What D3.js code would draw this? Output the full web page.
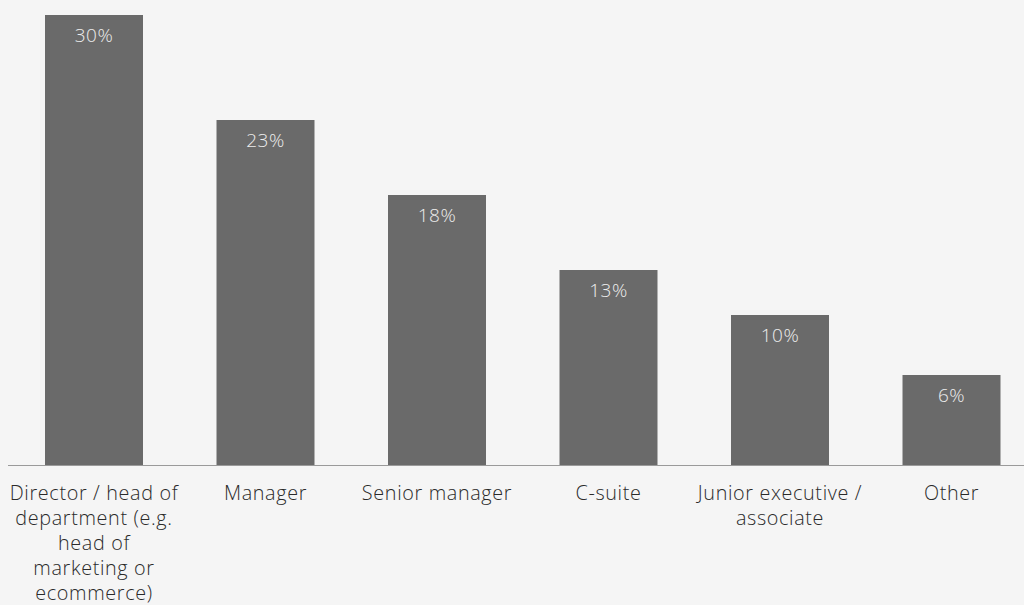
<!DOCTYPE html>
<html>
<head>
<meta charset="utf-8">
<script src="https://cdn.jsdelivr.net/npm/d3@7"></script>
<style>
  html, body { margin: 0; padding: 0; background: #f5f5f5; }
  svg { display: block; }
  text { font-family: "Open Sans", sans-serif; }
</style>
</head>
<body>
<svg id="chart" width="1024" height="605"></svg>
<script>
// Category labels, with line breaks where the label wraps
const categories = [
  "Director / head of\ndepartment (e.g.\nhead of\nmarketing or\necommerce)",
  "Manager",
  "Senior manager",
  "C-suite",
  "Junior executive /\nassociate",
  "Other"
];
const values = [30, 23, 18, 13, 10, 6];

const W = 1024, H = 605;
const baseline = 465;
const svg = d3.select("#chart");

const x = d3.scaleBand()
  .domain(categories)
  .range([8.25, 1037.25])
  .paddingInner(0.4286)
  .paddingOuter(0.2143);

const y = d3.scaleLinear()
  .domain([0, 30])
  .range([baseline, 15]);

const data = categories.map((c, i) => ({ cat: c, val: values[i] }));

svg.append("g").selectAll("rect")
  .data(data)
  .join("rect")
  .attr("x", d => x(d.cat))
  .attr("y", d => y(d.val))
  .attr("width", x.bandwidth())
  .attr("height", d => baseline - y(d.val))
  .attr("fill", "#6a6a6a");

svg.append("g").selectAll("text")
  .data(data)
  .join("text")
  .attr("x", d => x(d.cat) + x.bandwidth() / 2)
  .attr("y", d => y(d.val) + 27)
  .attr("text-anchor", "middle")
  .attr("font-size", 19)
  .attr("font-weight", 300)
  .attr("letter-spacing", 0.5)
  .attr("fill", "#ededed")
  .text(d => d.val + "%");

// baseline axis
svg.append("line")
  .attr("x1", 8).attr("x2", W)
  .attr("y1", baseline + 0.5).attr("y2", baseline + 0.5)
  .attr("stroke", "#9a9a9a")
  .attr("stroke-width", 1);

// category labels under the bars
svg.append("g").selectAll("text")
  .data(data)
  .join("text")
  .attr("text-anchor", "middle")
  .attr("font-size", 19.8)
  .attr("font-weight", 300)
  .attr("letter-spacing", 0.65)
  .attr("fill", "#2a2a2a")
  .each(function(d) {
    const cx = x(d.cat) + x.bandwidth() / 2;
    d3.select(this).selectAll("tspan")
      .data(d.cat.split("\n"))
      .join("tspan")
      .attr("x", cx)
      .attr("y", (s, i) => 500 + i * 25)
      .text(s => s);
  });
</script>
</body>
</html>
